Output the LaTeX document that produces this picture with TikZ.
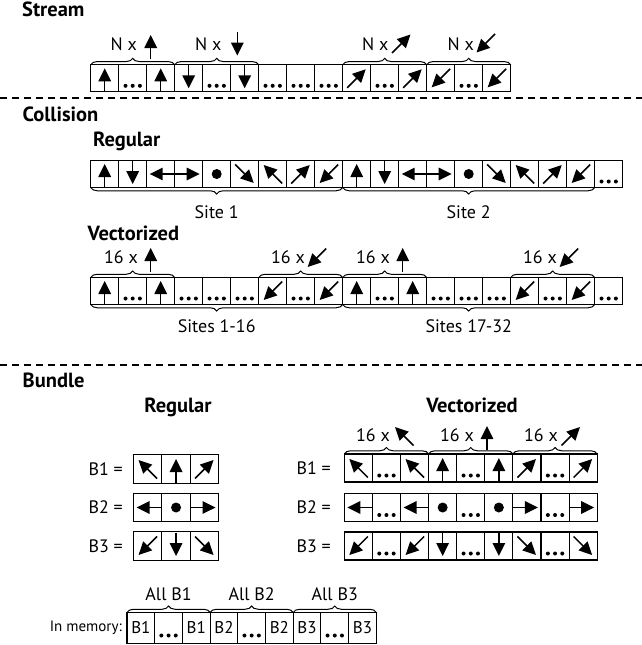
\documentclass[tikz,border=0pt]{standalone}
\usepackage{fontspec}
\setmainfont{PT Sans}
\usetikzlibrary{arrows.meta,decorations.pathreplacing,calc}

\tikzset{
  cell/.style={draw, line width=1.1pt, minimum width=28pt, minimum height=27pt,
               inner sep=0pt, outer sep=0pt, font=\fontsize{17}{20}\selectfont},
  glyph/.style={line width=1.5pt, -{Triangle[length=13pt,width=12.5pt]}},
  heading/.style={font=\bfseries\fontsize{20.5}{24}\selectfont, anchor=base west, inner sep=0pt},
  lbl/.style={font=\fontsize{18}{21}\selectfont, inner sep=0pt},
  small/.style={font=\fontsize{15}{18}\selectfont, inner sep=0pt},
  brc/.style={decorate, decoration={brace, amplitude=6.5pt}, line width=1pt},
  sep/.style={line width=2pt, dash pattern=on 7pt off 5pt},
}

% cell contents, drawn around the current origin (y grows downwards)
\newcommand\glyphU{\draw[glyph] (0,13.5) -- (0,-10);}
\newcommand\glyphD{\draw[glyph] (0,-13.5) -- (0,10);}
\newcommand\glyphL{\draw[glyph] (14,0) -- (-11,0);}
\newcommand\glyphR{\draw[glyph] (-14,0) -- (11,0);}
\newcommand\glyphO{\fill (0,0) circle (5pt);}
\newcommand\glyphE{\fill (-7.2,7.5) circle (2pt) (0,7.5) circle (2pt) (7.2,7.5) circle (2pt);}
\newcommand\glyphNE{\draw[glyph] (-9.5,9.5) -- (9,-9);}
\newcommand\glyphNW{\draw[glyph] (9.5,9.5) -- (-9,-9);}
\newcommand\glyphSE{\draw[glyph] (-9.5,-9.5) -- (9,9);}
\newcommand\glyphSW{\draw[glyph] (9.5,-9.5) -- (-9,9);}
\newcommand\glyphat[2]{\begin{scope}[shift={(#1)}]\csname glyph#2\endcsname\end{scope}}

\begin{document}
\begin{tikzpicture}[x=1pt, y=-1pt]
\fill[white] (0,0) rectangle (642,645);
\useasboundingbox (0,0) rectangle (642,645);

% ---------------- Stream ----------------
\node[heading] (hstream) at (22,16.7) {Stream};
\foreach \g [count=\i] in {U,E,U,D,E,D,E,E,E,NE,E,NE,SW,E,SW} {
  \node[cell] (st\i) at ({76.7+28*\i},78.3) {};
  \glyphat{st\i.center}{\g}
}
\draw[brc] (st1.north west) -- (st3.north east);
\draw[brc] (st4.north west) -- (st6.north east);
\draw[brc] (st10.north west) -- (st12.north east);
\draw[brc] (st13.north west) -- (st15.north east);
\node[lbl, anchor=base east] (nst1) at (137,50) {N x};
\node[lbl, anchor=base east] (nst2) at (221.5,50) {N x};
\node[lbl, anchor=base east] (nst3) at (388.5,50) {N x};
\node[lbl, anchor=base east] (nst4) at (474,50) {N x};
\glyphat{150.7,45}{U}
\glyphat{237.3,45.5}{D}
\glyphat{401.5,43.5}{NE}
\glyphat{485.5,43.5}{SW}

\coordinate (sepAl) at (0,98.3);
\coordinate (sepAr) at (642,98.3);
\draw[sep] (sepAl) -- (sepAr);

% ---------------- Collision ----------------
\node[heading] (hcoll) at (22.5,121.7) {Collision};
\node[heading] (hcreg) at (93,146.7) {Regular};
\foreach \g [count=\i] in {U,D,L,R,O,SE,NW,NE,SW,U,D,L,R,O,SE,NW,NE,SW,E} {
  \node[cell] (cr\i) at ({76.7+28*\i},174) {};
  \glyphat{cr\i.center}{\g}
}
\draw[brc] (cr9.south east) -- (cr1.south west);
\draw[brc] (cr18.south east) -- (cr10.south west);
\node[lbl, anchor=base] (site1) at (216.7,218) {Site 1};
\node[lbl, anchor=base] (site2) at (468.7,218) {Site 2};

\node[heading] (hcvec) at (87.5,240) {Vectorized};
\foreach \g [count=\i] in {U,E,U,E,E,E,SW,E,SW,U,E,U,E,E,E,SW,E,SW,E} {
  \node[cell] (cv\i) at ({76.7+28*\i},291) {};
  \glyphat{cv\i.center}{\g}
}
\draw[brc] (cv1.north west) -- (cv3.north east);
\draw[brc] (cv7.north west) -- (cv9.north east);
\draw[brc] (cv10.north west) -- (cv12.north east);
\draw[brc] (cv16.north west) -- (cv18.north east);
\node[lbl, anchor=base east] (ncv1) at (138,263.3) {16 x};
\node[lbl, anchor=base east] (ncv2) at (305,263.3) {16 x};
\node[lbl, anchor=base east] (ncv3) at (390,263.3) {16 x};
\node[lbl, anchor=base east] (ncv4) at (557,263.3) {16 x};
\glyphat{150.7,258}{U}
\glyphat{316.7,258}{SW}
\glyphat{402.7,258}{U}
\glyphat{568.7,258}{SW}
\draw[brc] (cv9.south east) -- (cv1.south west);
\draw[brc] (cv18.south east) -- (cv10.south west);
\node[lbl, anchor=base] (sites1) at (216.7,332) {Sites 1-16};
\node[lbl, anchor=base] (sites2) at (468.7,332) {Sites 17-32};

\coordinate (sepBl) at (0,364.5);
\coordinate (sepBr) at (642,364.5);
\draw[sep] (sepBl) -- (sepBr);

% ---------------- Bundle ----------------
\node[heading] (hbund) at (22.5,387) {Bundle};
\node[heading, anchor=base] (hbreg) at (178,412) {Regular};
\node[heading, anchor=base] (hbvec) at (472,412) {Vectorized};

% regular bundles
\foreach \row/\y/\gs in {1/469/{NW,U,NE}, 2/507.5/{L,O,R}, 3/546/{SW,D,SE}} {
  \node[lbl, anchor=east] (brl\row) at (123,\y) {B\row\ =};
  \foreach \g [count=\i] in \gs {
    \node[cell, minimum width=28.5pt, minimum height=28.5pt] (br\row c\i) at ({133.3+28.5*(\i-0.5)},\y) {};
    \glyphat{br\row c\i.center}{\g}
  }
}

% vectorized bundles
\foreach \row/\y/\gs in {1/468/{NW,E,NW,U,E,U,NE,E,NE}, 2/507.5/{L,E,L,O,E,O,R,E,R}, 3/546/{SW,E,SW,D,E,D,SE,E,SE}} {
  \node[lbl, anchor=east] (bvl\row) at (331,\y) {B\row\ =};
  \foreach \g [count=\i] in \gs {
    \node[cell, minimum width=28.1pt, minimum height=28pt] (bv\row c\i) at ({344.3+28.1*(\i-0.5)},\y) {};
    \glyphat{bv\row c\i.center}{\g}
  }
}
\draw[brc] (bv1c1.north west) -- (bv1c3.north east);
\draw[brc] (bv1c4.north west) -- (bv1c6.north east);
\draw[brc] (bv1c7.north west) -- (bv1c9.north east);
\node[lbl, anchor=base east] (nbv1) at (390,441.7) {16 x};
\node[lbl, anchor=base east] (nbv2) at (474,441.7) {16 x};
\node[lbl, anchor=base east] (nbv3) at (558,441.7) {16 x};
\glyphat{404,436}{NW}
\glyphat{487,436}{U}
\glyphat{571,436}{NE}

% memory layout
\node[small, anchor=east] (inmem) at (122,628) {In memory:};
\foreach \t [count=\i] in {B1,,B1,B2,,B2,B3,,B3} {
  \node[cell, minimum width=27.7pt, minimum height=31pt] (m\i) at ({127+27.7*(\i-0.5)},628) {\t};
}
\glyphat{m2.center}{E}
\glyphat{m5.center}{E}
\glyphat{m8.center}{E}
\draw[brc] (m1.north west) -- (m3.north east);
\draw[brc] (m4.north west) -- (m6.north east);
\draw[brc] (m7.north west) -- (m9.north east);
\node[lbl, anchor=base] (allb1) at ($(m2.north)+(0,-12.5)$) {All B1};
\node[lbl, anchor=base] (allb2) at ($(m5.north)+(0,-12.5)$) {All B2};
\node[lbl, anchor=base] (allb3) at ($(m8.north)+(0,-12.5)$) {All B3};
\end{tikzpicture}
\end{document}
